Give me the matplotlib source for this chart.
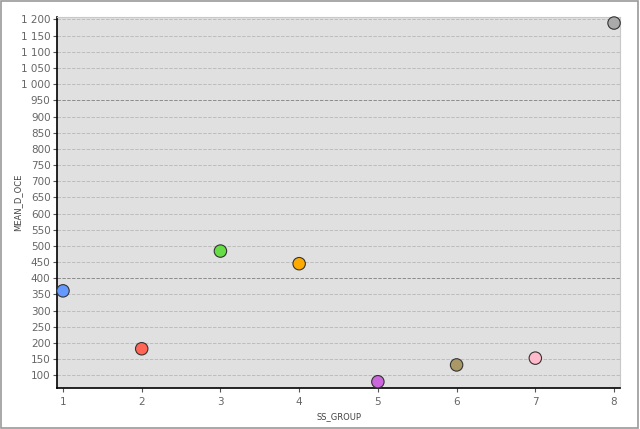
import matplotlib
matplotlib.use("Agg")
import matplotlib.pyplot as plt
from matplotlib.patches import Rectangle
from matplotlib.ticker import FuncFormatter, MultipleLocator

# values
groups = [1, 2, 3, 4, 5, 6, 7, 8]
mean_d_oce = [361, 182, 484, 445, 80, 132, 153, 1189]
colors = ["#6699ff", "#ff6655", "#66dd44", "#ffaa00",
          "#cc66dd", "#aa9966", "#ffbbcc", "#aaaaaa"]

fig = plt.figure(figsize=(6.4, 4.29), dpi=100)
fig.patches.append(Rectangle((0.0015, 0.002), 0.996, 0.995, transform=fig.transFigure,
                             fill=False, edgecolor="#999999", linewidth=1.2))

ax = fig.add_axes([0.0898, 0.0956, 0.879, 0.8648])
ax.set_facecolor("#e0e0e0")

ax.scatter(groups, mean_d_oce, s=80, c=colors, edgecolors="#333333",
           linewidths=0.8, zorder=3, clip_on=False)

ax.set_xlim(0.93, 8.076)
ax.set_ylim(60.7, 1207.7)
ax.yaxis.set_major_locator(MultipleLocator(50))
ax.xaxis.set_major_locator(MultipleLocator(1))
ax.yaxis.set_major_formatter(FuncFormatter(lambda v, p: f"{int(v):,}".replace(",", " ")))

# dashed horizontal grid, two lines slightly darker as in the source
for v in range(100, 1201, 50):
    dark = v in (400, 950)
    ax.axhline(v, color="#8c8c8c" if dark else "#bcbcbc", linestyle=(0, (3.5, 1.5)),
               linewidth=0.7, zorder=1)

for side in ("left", "bottom"):
    ax.spines[side].set_color("black")
    ax.spines[side].set_linewidth(1.2)
for side in ("top", "right"):
    ax.spines[side].set_color("#c8c8c8")
    ax.spines[side].set_linewidth(0.8)

ax.tick_params(axis="both", colors="#555555", labelsize=7.5, length=3, width=0.8)
ax.tick_params(axis="both", labelcolor="#666666")
ax.tick_params(axis="y", pad=2)

ax.set_xlabel("SS_GROUP", fontsize=6, color="#444444", labelpad=4)
ax.set_ylabel("MEAN_D_OCE", fontsize=6, color="#444444")
ax.yaxis.set_label_coords(-0.063, 0.5)

fig.savefig("out.png", dpi=100)
